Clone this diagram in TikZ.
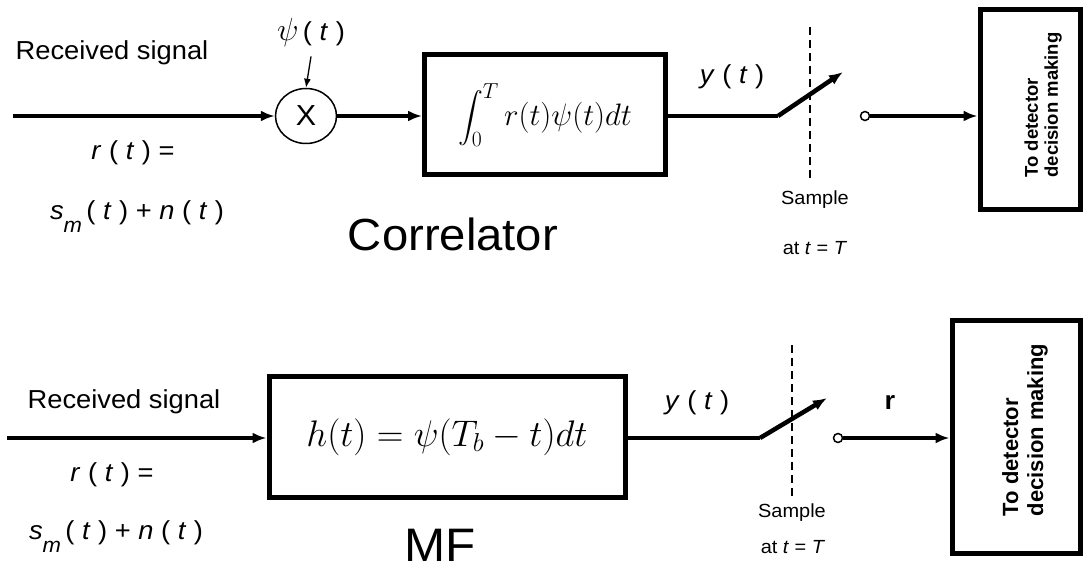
\RequirePackage{fix-cm}
\documentclass[tikz,border=0pt]{standalone}
\usepackage{exscale}
\usepackage{fontspec}
\setmainfont{Liberation Sans}[FakeStretch=1.05]
\newfontfamily\detfont{Liberation Sans}
\usetikzlibrary{arrows.meta,shapes.geometric}
\newcommand{\subm}{\raisebox{-0.5em}{\fontsize{21}{24}\selectfont\textit{m}}}
\begin{document}
\begin{tikzpicture}[x=1pt,y=-1pt,
  wire/.style={line width=4.5pt},
  arr/.style={line width=4.5pt,-{Latex[length=14pt,width=11pt]}},
  thinarr/.style={line width=1.3pt,-{Latex[length=9pt,width=7pt]}},
  blk/.style={draw,line width=5pt,inner sep=0pt},
  txt/.style={inner sep=0pt,font=\fontsize{26}{30}\selectfont},
  smalltxt/.style={inner sep=0pt,font=\fontsize{19}{22}\selectfont},
  bigtxt/.style={inner sep=0pt,anchor=base,font=\fontsize{45}{50}\selectfont},
  tap/.style={circle,draw,line width=1.5pt,fill=white,minimum size=9pt,inner sep=0pt},
  samp/.style={line width=1.5pt,dash pattern=on 8pt off 5pt},
  dettxt/.style={inner sep=0pt,rotate=90,align=left}
]
\useasboundingbox (0,0) rectangle (1084,572);
\fill[white] (0,0) rectangle (1084,572);

% ---------------- Correlator ----------------
\node[txt] (rs1) at (112,53) {Received signal};
\node[txt] (rt1) at (133,153) {\textit{r} ( \textit{t} ) =};
\node[txt] (sm1) at (137,217) {\textit{s}\subm\,( \textit{t} ) + \textit{n} ( \textit{t} )};
\coordinate (in1) at (13,116);
\node[ellipse,draw,line width=1.5pt,minimum width=61pt,minimum height=55pt,inner sep=0pt,font=\fontsize{29}{30}\selectfont] (mul) at (306,116) {X};
\node[txt] (psi) at (311,33) {{\fontsize{32}{34}\selectfont$\psi$}\,( \textit{t} )};
\draw[thinarr] ([yshift=-9pt]psi.south) -- (mul.north);
\draw[arr] (in1) -- (mul.west);
\node[blk,minimum width=241pt,minimum height=120pt,font=\fontsize{31}{36}\selectfont] (corr) at (545,115) {$\displaystyle\int_0^T r(t)\psi(t)dt$};
\draw[arr] (mul.east) -- (mul.east -| corr.west);
\node[bigtxt] (corrlbl) at (453,250) {Correlator};
\coordinate (piv1) at (778,116);
\coordinate (sw1) at (843,72);
\draw[wire] (corr.east |- piv1) -- (piv1);
\draw[arr] (piv1) -- (sw1);
\node[txt] (y1) at (732,77) {\textit{y} ( \textit{t} )};
\coordinate (d1a) at (810,27);
\coordinate (d1b) at (810,178);
\draw[samp] (d1a) -- (d1b);
\node[smalltxt] (smp1) at (815,200) {Sample};
\node[smalltxt] (at1) at (815,248) {at \textit{t} = \textit{T}};
\node[tap] (tap1) at (865,116) {};
\node[blk,minimum width=100pt,minimum height=200pt] (det1) at (1030,110) {};
\draw[arr] (tap1.east) -- (tap1.east -| det1.west);
\node[dettxt,font=\detfont\bfseries\fontsize{18.5}{20}\selectfont] (det1t) at (1043,105) {To detector\\decision making};

% ---------------- Matched filter ----------------
\node[txt] (rs2) at (124,402) {Received signal};
\node[txt] (rt2) at (112,475) {\textit{r} ( \textit{t} ) =};
\node[txt] (sm2) at (116,537) {\textit{s}\subm\,( \textit{t} ) + \textit{n} ( \textit{t} )};
\coordinate (in2) at (7,438);
\node[blk,minimum width=356pt,minimum height=121pt,font=\fontsize{37}{40}\selectfont] (mf) at (447,437) {$h(t)=\psi(T_b-t)dt$};
\draw[arr] (in2) -- (in2 -| mf.west);
\node[bigtxt,font=\fontsize{47}{50}\selectfont] (mflbl) at (440,561) {MF};
\coordinate (piv2) at (760,438);
\coordinate (sw2) at (827,398);
\draw[wire] (mf.east |- piv2) -- (piv2);
\draw[arr] (piv2) -- (sw2);
\node[txt] (y2) at (697,403) {\textit{y} ( \textit{t} )};
\coordinate (d2a) at (792,345);
\coordinate (d2b) at (792,497);
\draw[samp] (d2a) -- (d2b);
\node[smalltxt] (smp2) at (792,513) {Sample};
\node[smalltxt] (at2) at (793,547) {at \textit{t} = \textit{T}};
\node[tap] (tap2) at (838,438) {};
\node[txt,font=\bfseries\fontsize{26}{30}\selectfont] (rv) at (890,402) {r};
\node[blk,minimum width=128pt,minimum height=233pt] (det2) at (1016,436.5) {};
\draw[arr] (tap2.east) -- (tap2.east -| det2.west);
\node[dettxt,font=\detfont\bfseries\fontsize{22}{25}\selectfont] (det2t) at (1025,430) {To detector\\decision making};
\end{tikzpicture}
\end{document}
